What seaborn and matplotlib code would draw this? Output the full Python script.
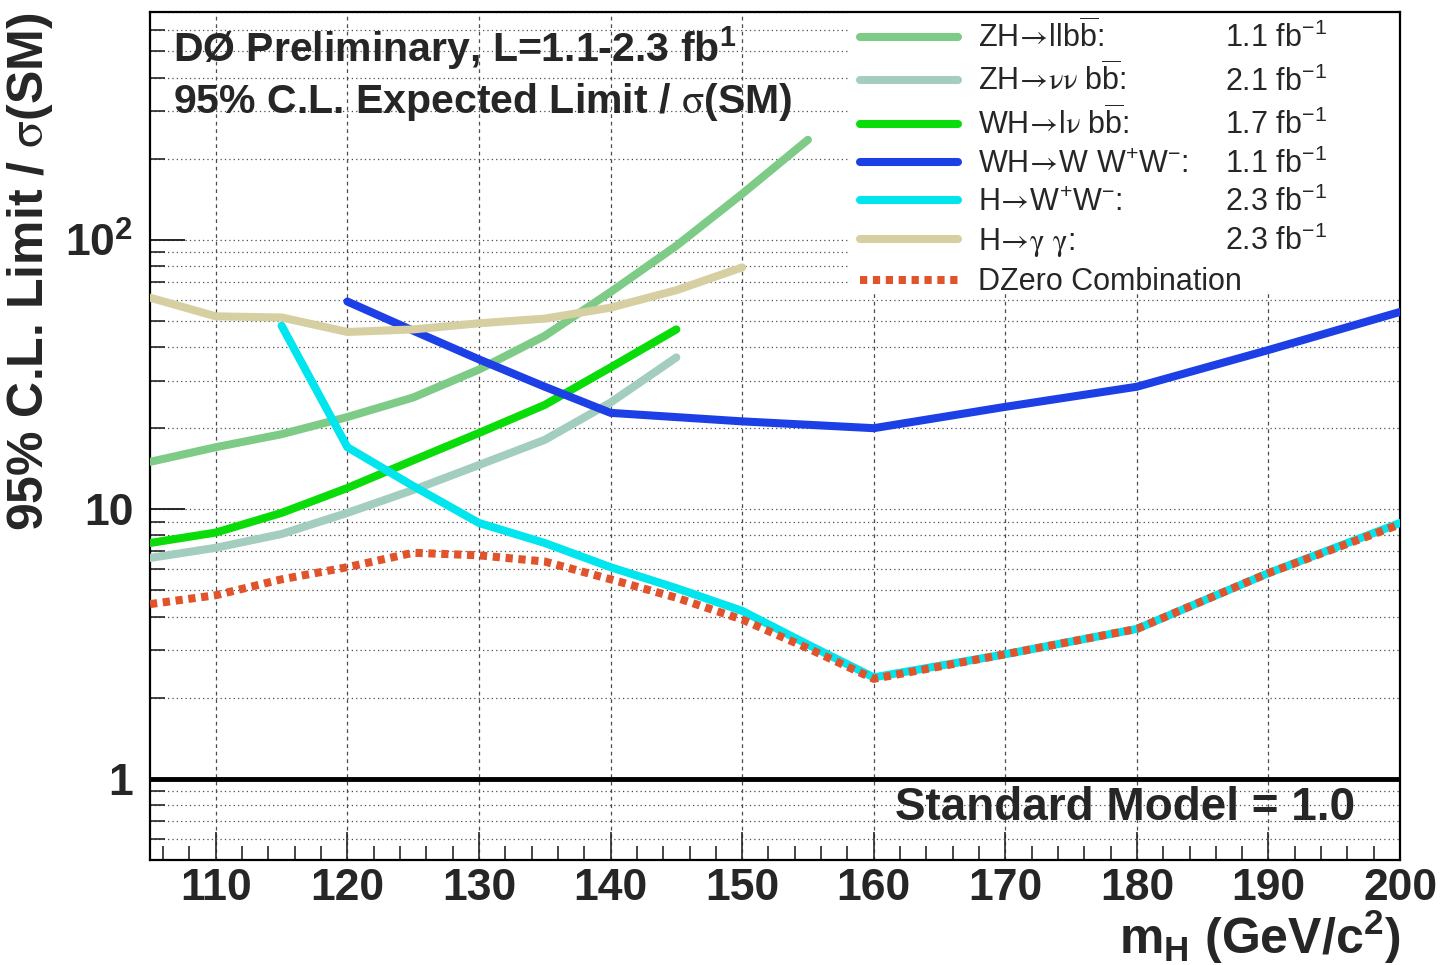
import numpy as np
import pandas as pd
import matplotlib
matplotlib.use('Agg')
import matplotlib.pyplot as plt
import seaborn as sns
from matplotlib.ticker import FixedLocator, LogLocator, MultipleLocator, NullFormatter
from matplotlib.patches import Rectangle

# expected limits / sigma(SM)
m_llbb = [105, 110, 115, 120, 125, 130, 135, 140, 145, 150, 155]
lim_llbb = [15, 17, 19, 22, 26, 33, 44, 64, 95, 148, 235]

m_vvbb = [105, 110, 115, 120, 125, 130, 135, 140, 145]
lim_vvbb = [6.6, 7.2, 8.1, 9.7, 11.8, 14.6, 18.1, 24.9, 36.6]

m_lvbb = [105, 110, 115, 120, 125, 130, 135, 140, 145]
lim_lvbb = [7.5, 8.2, 9.7, 12.0, 15.2, 19.2, 24.4, 33.6, 46.5]

m_www = [120, 125, 130, 135, 140, 150, 160, 170, 180, 190, 200]
lim_www = [59, 46, 36, 28.5, 22.8, 21.2, 20.0, 24.0, 28.5, 39, 54]

m_hww = [115, 120, 125, 130, 135, 140, 145, 150, 155, 160, 170, 180, 190, 200]
lim_hww = [48, 17, 12.2, 8.9, 7.5, 6.1, 5.1, 4.2, 3.15, 2.38, 2.9, 3.6, 5.8, 8.9]

m_gg = [105, 110, 115, 120, 125, 130, 135, 140, 145, 150]
lim_gg = [61, 52, 51.5, 45.5, 46.5, 49, 51, 56, 65, 79]

m_comb = [105, 110, 115, 120, 125, 130, 135, 140, 145, 150, 155, 160, 170, 180, 190, 200]
lim_comb = [4.45, 4.8, 5.5, 6.1, 6.9, 6.75, 6.4, 5.5, 4.7, 3.9, 3.05, 2.35, 2.9, 3.6, 5.8, 8.8]

arrow = r'$\!\mathsf{\rightarrow}\!$'
bbar = r'$\mathrm{b\overline{b}}$'
labels = ['ZH' + arrow + 'll' + bbar + ':',
          'ZH' + arrow + r'$\mathsf{\nu\nu}$ ' + bbar + ':',
          'WH' + arrow + r'l$\mathsf{\nu}$ ' + bbar + ':',
          'WH' + arrow + r'W W$^{+}$W$^{-}$:',
          'H' + arrow + r'W$^{+}$W$^{-}$:',
          'H' + arrow + r'$\mathsf{\gamma}$ $\mathsf{\gamma}$:',
          'DZero Combination']
lumis = ['1.1 fb$^{-1}$', '2.1 fb$^{-1}$', '1.7 fb$^{-1}$', '1.1 fb$^{-1}$',
         '2.3 fb$^{-1}$', '2.3 fb$^{-1}$', '']
colors = ['#7dcb86', '#a3cdbf', '#0adc0a', '#1c3fe6', '#00e5ee', '#d6cfa2', '#e0532b']

x_ticks = [110, 120, 130, 140, 150, 160, 170, 180, 190, 200]
y_ticks = [1, 10, 100]
y_tick_labels = ['1', '10', r'$\mathbf{10^{2}}$']
sm_level = 1.0

sns.set_style('white')
plt.rcParams['font.family'] = ['Liberation Sans', 'DejaVu Sans']
plt.rcParams['mathtext.fontset'] = 'custom'
plt.rcParams['mathtext.rm'] = 'Liberation Sans'
plt.rcParams['mathtext.it'] = 'Liberation Sans:italic'
plt.rcParams['mathtext.bf'] = 'Liberation Sans:bold'
plt.rcParams['mathtext.sf'] = 'STIXGeneral'
plt.rcParams['mathtext.fallback'] = 'stix'

fig = plt.figure(figsize=(14.43, 9.65), dpi=100)
ax = fig.add_axes([0.10395, 0.10881, 0.8663, 0.87875])

series = [(m_llbb, lim_llbb), (m_vvbb, lim_vvbb), (m_lvbb, lim_lvbb), (m_www, lim_www),
          (m_hww, lim_hww), (m_gg, lim_gg), (m_comb, lim_comb)]
handles = []
for i, (m, lim) in enumerate(series):
    df = pd.DataFrame({'mH': m, 'limit': lim})
    ls = (0, (0.9, 0.7)) if i == 6 else '-'
    sns.lineplot(data=df, x='mH', y='limit', color=colors[i], lw=5.8, linestyle=ls,
                 ax=ax, legend=False, sort=False, zorder=3)
    handles.append(ax.lines[-1])

ax.axhline(sm_level, color='black', lw=3.5, zorder=4)

ax.set_yscale('log')
ax.set_xlim(105, 200)
ax.set_ylim(0.5, 700)

ax.xaxis.set_major_locator(FixedLocator(x_ticks))
ax.xaxis.set_minor_locator(MultipleLocator(2))
ax.set_xticklabels([str(t) for t in x_ticks], fontsize=32, fontweight='bold')
ax.yaxis.set_major_locator(FixedLocator(y_ticks))
ax.yaxis.set_minor_locator(LogLocator(base=10, subs=np.arange(2, 10), numticks=20))
ax.yaxis.set_minor_formatter(NullFormatter())
ax.set_yticklabels(y_tick_labels, fontsize=32, fontweight='bold')

ax.tick_params(which='both', bottom=True, left=True, top=False, right=False)
ax.tick_params(axis='x', which='major', direction='in', length=20, width=1.2, pad=6)
ax.tick_params(axis='x', which='minor', direction='in', length=10, width=1.2)
ax.tick_params(axis='y', which='major', direction='in', length=25, width=1.4, pad=12)
ax.tick_params(axis='y', which='minor', direction='in', length=11, width=1.2)
for s in ax.spines.values():
    s.set_linewidth(1.6)
    s.set_color('black')

ax.set_axisbelow(True)
ax.grid(True, axis='x', which='major', color='0.3', ls=(0, (3, 3)), lw=0.9)
ax.grid(True, axis='y', which='both', color='0.3', ls=(0, (1, 2.5)), lw=0.9)

# white box behind the legend
ax.add_patch(Rectangle((0.56, 0.67), 0.44, 0.33, transform=ax.transAxes,
                       facecolor='white', edgecolor='none', zorder=1.5))

ax.set_xlabel(r'm$_{\mathbf{H}}$ (GeV/c$^{\mathbf{2}}$)', fontsize=36, fontweight='bold', loc='right')
ax.xaxis.set_label_coords(1.0, -0.057)
ax.set_ylabel(r'95% C.L. Limit / $\mathsf{\sigma}$(SM)', fontsize=36, fontweight='bold', loc='top')
ax.yaxis.set_label_coords(-0.076, 1.0)

ax.text(0.0184, 0.941, r'DØ Preliminary, L=1.1-2.3 fb$^{\mathbf{1}}$', transform=ax.transAxes,
        fontsize=29.5, fontweight='bold', va='baseline', zorder=5)
ax.text(0.0184, 0.881, r'95% C.L. Expected Limit / $\mathsf{\sigma}$(SM)', transform=ax.transAxes,
        fontsize=29.5, fontweight='bold', va='baseline', zorder=5)
ax.text(0.964, 0.047, 'Standard Model = 1.0', transform=ax.transAxes,
        fontsize=33, fontweight='bold', ha='right', va='baseline', zorder=5)

leg = ax.legend(handles, labels, loc='upper left', bbox_to_anchor=(860 / 1443, 946 / 965),
                bbox_transform=fig.transFigure, frameon=False, fontsize=22,
                handlelength=3.2, handletextpad=0.65, labelspacing=0.27,
                borderpad=0, borderaxespad=0)

fig.canvas.draw()
for t, lumi in zip(leg.get_texts(), lumis):
    if not lumi:
        continue
    yb = t.get_transform().transform((0, 0))[1]
    yf = fig.transFigure.inverted().transform((0, yb))[1]
    fig.text(1225 / 1443, yf, lumi, fontsize=22, va='baseline')

fig.savefig('out.png', dpi=100)
